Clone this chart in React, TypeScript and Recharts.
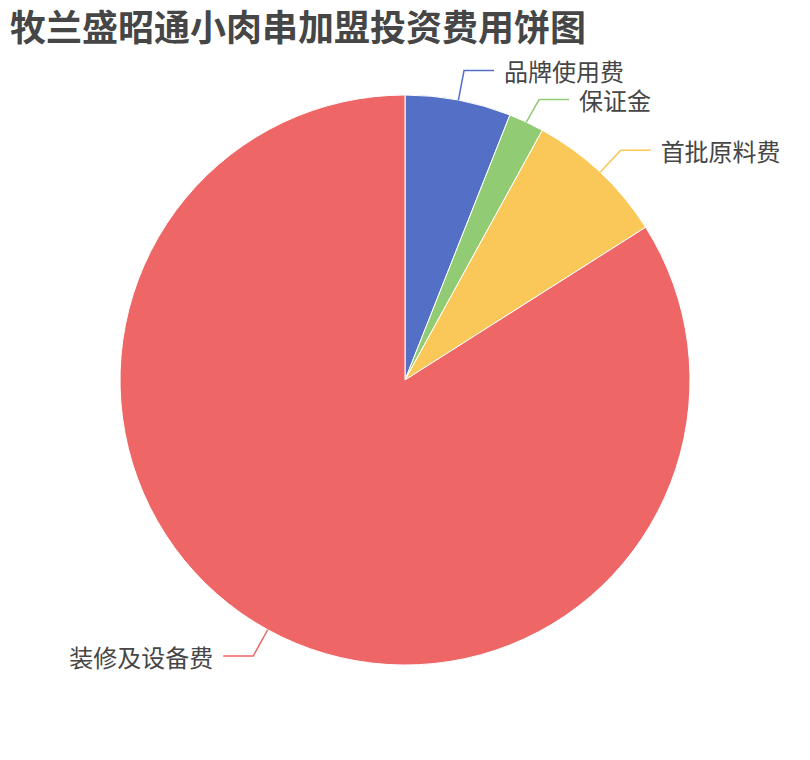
import { PieChart, Pie, Cell } from 'recharts'

const names = ['品牌使用费', '保证金', '首批原料费', '装修及设备费']
const values = [3, 1, 4, 42]
const colors = ['#5470c6', '#91cc75', '#fac858', '#ee6666']

const data = names.map((name, i) => ({ name, value: values[i] }))

const RADIAN = Math.PI / 180
const FONT = '"Noto Sans CJK SC", "Noto Sans", sans-serif'
const CX = 405
const CY = 380
const R = 285
const LEN1 = 30
const LEN2 = 30
const LABEL_H = 29

// label y positions, pushed apart like echarts does when they would overlap
const total = values.reduce((a, b) => a + b, 0)
const labelYs: number[] = (() => {
  let acc = 0
  const items = values.map((v, i) => {
    const mid = 90 - ((acc + v / 2) / total) * 360
    acc += v
    const cos = Math.cos(-mid * RADIAN)
    const sin = Math.sin(-mid * RADIAN)
    return { i, right: cos >= 0, y: CY + (R + LEN1) * sin }
  })
  const out = items.map((it) => it.y)
  for (const side of [true, false]) {
    const list = items.filter((it) => it.right === side).sort((a, b) => a.y - b.y)
    let prev = -Infinity
    for (const it of list) {
      const y = Math.max(it.y, prev + LABEL_H)
      out[it.i] = y
      prev = y
    }
  }
  return out
})()

function renderLabel(props: any) {
  const { cx, cy, midAngle, outerRadius, index, name } = props
  const cos = Math.cos(-midAngle * RADIAN)
  const sin = Math.sin(-midAngle * RADIAN)
  const x0 = cx + outerRadius * cos
  const y0 = cy + outerRadius * sin
  const x1 = cx + (outerRadius + LEN1) * cos
  const y1 = labelYs[index] ?? cy + (outerRadius + LEN1) * sin
  const right = cos >= 0
  const x2 = x1 + (right ? LEN2 : -LEN2)
  const tx = x2 + (right ? 10 : -10)
  return (
    <g>
      <polyline
        points={`${x0},${y0} ${x1},${y1} ${x2},${y1}`}
        fill="none"
        stroke={colors[index]}
        strokeWidth={1.5}
      />
      <text
        x={tx}
        y={y1}
        textAnchor={right ? 'start' : 'end'}
        dominantBaseline="central"
        fill="#464646"
        fontSize={24}
        fontFamily={FONT}
      >
        {name}
      </text>
    </g>
  )
}

export default function App() {
  return (
    <div style={{ position: 'absolute', left: 0, top: 0, width: 810, height: 760, background: '#fff' }}>
      <div
        style={{
          position: 'absolute',
          left: 10,
          top: 2,
          width: 700,
          fontSize: 36,
          fontWeight: 700,
          color: '#464646',
          fontFamily: FONT,
          lineHeight: '46px',
          whiteSpace: 'nowrap',
        }}
      >
        牧兰盛昭通小肉串加盟投资费用饼图
      </div>
      <PieChart width={810} height={760} margin={{ top: 0, right: 0, bottom: 0, left: 0 }}>
        <Pie
          data={data}
          dataKey="value"
          nameKey="name"
          cx={CX}
          cy={CY}
          outerRadius={R}
          startAngle={90}
          endAngle={-270}
          stroke="#fff"
          strokeWidth={1}
          label={renderLabel}
          labelLine={false}
          isAnimationActive={false}
        >
          {data.map((d, i) => (
            <Cell key={d.name} fill={colors[i]} />
          ))}
        </Pie>
      </PieChart>
    </div>
  )
}
